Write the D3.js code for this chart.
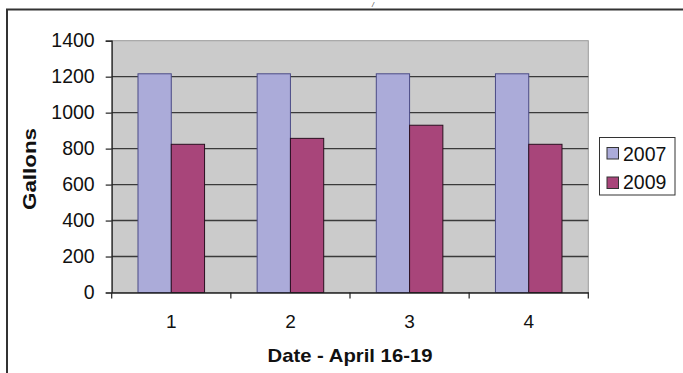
<!DOCTYPE html>
<html><head><meta charset="utf-8">
<script src="https://cdn.jsdelivr.net/npm/d3@7"></script>
<style>html,body{margin:0;padding:0;background:#fff;overflow:hidden}svg{display:block;font-family:"Liberation Sans",Arial,sans-serif}</style>
</head><body>
<svg id="c" width="683" height="373"></svg>
<script>
const categories = ["1","2","3","4"];
const seriesNames = ["2007","2009"];
const values2007 = [1216,1216,1216,1216];
const values2009 = [824,857,930,824];
const yTicks = [0,200,400,600,800,1000,1200,1400];
const xTitle = "Date - April 16-19";
const yTitle = "Gallons";

const colors = {"2007":"#ABABD9","2009":"#A8457A"};
const strokes = {"2007":"#4B4B86","2009":"#2a1020"};
const seriesValues = {"2007":values2007,"2009":values2009};

const svg = d3.select("#c");
const L=111.7, R=588.3, T=40.7, B=292.5;

// outer border
svg.append("rect").attr("x",7).attr("y",9.5).attr("width",720).attr("height",420)
  .attr("fill","#fff").attr("stroke","#333").attr("stroke-width",2);

// tiny glyph at top
svg.append("text").attr("x",372).attr("y",7).attr("font-size",7).attr("font-style","italic")
  .attr("fill","#333").text("/");

const x0 = d3.scaleBand().domain(categories).range([L,R]).padding(0);
const x1 = d3.scaleBand().domain(seriesNames).range([0,x0.bandwidth()]).paddingInner(0).paddingOuter(0.79);
const y = d3.scaleLinear().domain([0,1400]).range([B,T]);

// plot area
svg.append("rect").attr("x",L).attr("y",T).attr("width",R-L).attr("height",B-T)
  .attr("fill","#CBCBCB").attr("stroke","#9a9a9a").attr("stroke-width",1);

// gridlines
svg.append("g").selectAll("line").data(yTicks.filter(d=>d>0 && d<1400)).join("line")
  .attr("x1",L).attr("x2",R).attr("y1",d=>y(d)).attr("y2",d=>y(d))
  .attr("stroke","#3a3a3a").attr("stroke-width",1.4);

// bars
const g = svg.append("g");
categories.forEach((c,i)=>{
  seriesNames.forEach(s=>{
    const v = seriesValues[s][i];
    g.append("rect").attr("x",x0(c)+x1(s)).attr("y",y(v))
      .attr("width",x1.bandwidth()).attr("height",y(0)-y(v))
      .attr("fill",colors[s]).attr("stroke",strokes[s]).attr("stroke-width",1);
  });
});

// y axis
const yAxis = svg.append("g").attr("transform",`translate(${L},0)`)
  .call(d3.axisLeft(y).tickValues(yTicks).tickSize(6).tickPadding(11).tickFormat(d3.format("d")));
yAxis.select(".domain").attr("stroke","#222").attr("stroke-width",1.2);
yAxis.selectAll(".tick line").attr("stroke","#222").attr("stroke-width",1.2);
yAxis.selectAll("text").attr("font-size",19.5).attr("fill","#111").attr("font-family","'Liberation Sans',Arial,sans-serif");

// x axis
const xAxis = svg.append("g").attr("transform",`translate(0,${B})`)
  .call(d3.axisBottom(x0).tickSize(0).tickPadding(22));
xAxis.select(".domain").attr("stroke","#222").attr("stroke-width",1.4);
xAxis.selectAll("text").attr("font-size",19).attr("fill","#111").attr("font-family","'Liberation Sans',Arial,sans-serif");
// boundary tick marks
const bounds = categories.map(c=>x0(c)).concat([x0(categories[categories.length-1])+x0.step()]);
xAxis.selectAll(".btick").data(bounds).join("line").attr("class","btick")
  .attr("x1",d=>d).attr("x2",d=>d).attr("y1",0).attr("y2",6)
  .attr("stroke","#222").attr("stroke-width",1.2);

// titles
svg.append("text").attr("x",(L+R)/2).attr("y",361.5).attr("text-anchor","middle")
  .attr("font-size",19).attr("font-weight","bold").attr("fill","#111")
  .attr("textLength",165).attr("lengthAdjust","spacingAndGlyphs").text(xTitle);
svg.append("text").attr("transform","translate(36,169) rotate(-90)").attr("text-anchor","middle")
  .attr("font-size",19).attr("font-weight","bold").attr("fill","#111")
  .attr("textLength",82).attr("lengthAdjust","spacingAndGlyphs").text(yTitle);

// legend
const lg = svg.append("g");
lg.append("rect").attr("x",599.5).attr("y",137.5).attr("width",75.5).attr("height",57.5)
  .attr("fill","#fff").attr("stroke","#333").attr("stroke-width",1);
seriesNames.forEach((s,i)=>{
  lg.append("rect").attr("x",607).attr("y",147.5+i*29.5).attr("width",11.5).attr("height",11.5)
    .attr("fill",colors[s]).attr("stroke","#333").attr("stroke-width",1);
  lg.append("text").attr("x",623).attr("y",160.7+i*28.5).attr("font-size",19.5).attr("fill","#111").text(s);
});
</script>
</body></html>
